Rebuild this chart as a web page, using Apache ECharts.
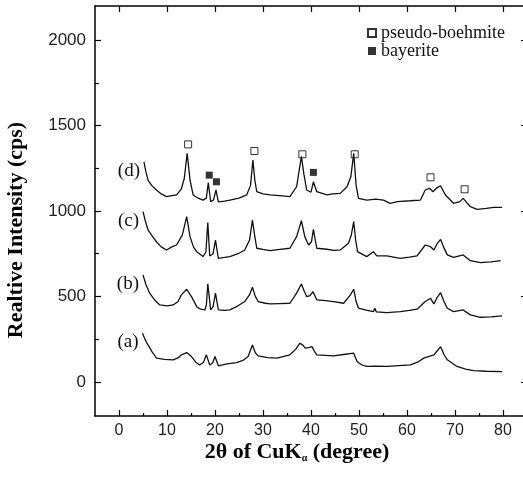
<!DOCTYPE html>
<html>
<head>
<meta charset="utf-8">
<script src="https://cdn.jsdelivr.net/npm/echarts@6/dist/echarts.min.js"></script>
<style>html,body{margin:0;padding:0;background:#fff;}#c{width:523px;height:478px;}</style>
</head>
<body>
<div id="c"></div>
<script>
// ---- data ----
const curveA = [[4.9,285],[5.4,250],[6.05,216],[6.9,175],[7.8,139],[9.5,132],[11.3,129],[12.3,140],[13.0,158],[14.1,171],[15.1,148],[16,115],[16.8,99],[17.6,115],[18.2,158],[18.9,99],[19.5,110],[20.0,148],[20.7,94],[22.5,105],[24.5,113],[25.8,125],[26.9,148],[27.8,216],[28.4,170],[29.0,152],[31,142],[32.9,139],[35.6,158],[36.8,190],[37.7,226],[38.3,215],[38.8,197],[39.5,200],[40.2,206],[40.7,180],[41.2,158],[43,155],[44.7,152],[46.8,160],[48.9,168],[49.6,119],[50.5,100],[51.6,90],[53.5,92],[55.8,90],[58.3,95],[60.7,99],[62.2,115],[63.5,139],[65.6,158],[66.4,185],[67.0,206],[67.7,160],[68.4,129],[70.4,90],[72.2,75],[73.9,66],[76.5,62],[79.8,60]];
const curveB = [[5.0,626],[5.6,570],[6.4,519],[7.4,480],[8.5,450],[10,445],[11.3,450],[12.3,470],[13.0,509],[14.1,542],[15.1,499],[16.2,440],[17.0,425],[17.9,421],[18.2,450],[18.5,573],[19.1,421],[19.6,440],[20.1,519],[20.7,421],[22,418],[23.1,421],[24.8,445],[26.2,470],[27.2,510],[27.8,554],[28.4,500],[29.0,470],[30.5,460],[31.5,456],[33.5,458],[35.6,460],[37.0,519],[38.0,573],[38.6,530],[39.1,499],[39.8,505],[40.4,528],[41.2,480],[43,475],[44.7,470],[46.8,460],[48.2,509],[48.9,542],[49.4,470],[49.9,431],[51.5,420],[53.0,411],[53.3,430],[53.6,410],[55.8,405],[58.6,411],[60.5,418],[62.1,425],[63.8,470],[64.9,489],[65.6,456],[66.3,495],[67.0,522],[67.7,470],[68.4,431],[69.7,411],[71.7,421],[73.2,392],[75.3,378],[77.5,380],[79.8,386]];
const curveC = [[5.0,996],[5.5,940],[6.05,889],[7,850],[7.8,820],[8.8,790],[9.9,772],[11,790],[12.0,801],[13.2,860],[14.1,967],[14.8,850],[15.5,790],[16.2,762],[17.5,733],[18.1,760],[18.5,932],[18.9,737],[19.6,750],[20.1,830],[20.7,723],[22,728],[23.1,733],[24.8,750],[26.2,772],[27.2,830],[27.8,947],[28.3,850],[28.7,782],[30,775],[31.5,768],[33.5,775],[35.6,782],[37.0,850],[38.0,943],[38.7,850],[39.5,801],[40.1,820],[40.5,893],[41.2,782],[43.3,776],[44.8,770],[46.1,772],[47.8,811],[48.4,860],[48.9,938],[49.3,830],[49.7,762],[51.6,733],[53.0,762],[53.7,737],[55.8,737],[58.6,723],[60.5,730],[62.1,737],[63.8,801],[64.9,791],[65.6,772],[66.3,810],[67.0,834],[67.6,790],[68.4,743],[69.7,729],[71.7,743],[73.2,709],[75.3,698],[77.5,702],[79.5,709]];
const curveD = [[5.2,1288],[5.6,1230],[6.05,1181],[6.8,1150],[7.8,1123],[8.8,1100],[9.9,1084],[11,1090],[12.0,1094],[13.0,1130],[13.6,1190],[14.2,1337],[14.8,1180],[15.45,1094],[16.5,1075],[17.5,1064],[18.2,1075],[18.6,1166],[19.1,1054],[19.7,1065],[20.2,1123],[20.7,1054],[22,1058],[23.1,1064],[25,1075],[26.6,1094],[27.4,1150],[27.9,1298],[28.3,1180],[28.7,1113],[30,1100],[31.5,1094],[33.5,1090],[35.6,1084],[37.0,1142],[38.0,1320],[38.5,1220],[39.1,1123],[40.0,1110],[40.5,1171],[41.2,1113],[43.3,1094],[44.5,1100],[46.1,1103],[47.5,1142],[48.3,1200],[48.9,1337],[49.4,1150],[49.9,1074],[51.6,1064],[53.5,1070],[55.1,1064],[56.5,1045],[58,1055],[60.7,1060],[62.8,1064],[63.8,1123],[64.7,1133],[65.4,1113],[66.2,1135],[67.0,1148],[68.0,1094],[69.7,1045],[71.0,1055],[71.7,1074],[73.2,1025],[74.6,1010],[76.5,1015],[78.1,1021],[79.8,1021]];
const curveNames = ['(a)','(b)','(c)','(d)'];
const pseudoBoehmite = [[14.4,1390],[28.2,1351],[38.2,1332],[49.1,1332],[64.9,1197],[72.0,1127]];
const bayerite = [[18.8,1210],[20.3,1171],[40.5,1226]];
const xMajor = [0,10,20,30,40,50,60,70,80];
const xMinor = [5,15,25,35,45,55,65,75];
const yMajor = [0,500,1000,1500,2000];
const yMinor = [250,750,1250,1750];
const xTitle = '2θ of CuK';
const xTitleSub = 'α';
const xTitleEnd = ' (degree)';
const yTitle = 'Realtive Intensity (cps)';

// ---- chart ----
const chart = echarts.init(document.getElementById('c'), null, {renderer:'canvas'});
const black = '#000';
const lineCol = '#111';
function curveSeries(data, name){
  return {
    type:'line', name:name, xAxisIndex:0, yAxisIndex:0,
    showSymbol:true, showAllSymbol:true, symbolSize:0, symbol:'circle',
    itemStyle:{color:lineCol},
    lineStyle:{color:lineCol, width:1.3},
    animation:false, silent:true,
    data: data.map((p,i)=> i===0 ? {value:p, label:{show:true, formatter:name, position:'left', distance:4, offset:[0,9],
      fontFamily:'Liberation Serif', fontSize:19, color:'#111'}} : p)
  };
}
const axisLineStyle = {color:black, width:1.5};
const tickStyle = {color:black, width:1.2};
const X_MIN = -5, X_MAX = 85, Y_MIN = -200, Y_MAX = 2200;
const option = {
  backgroundColor:'#fff',
  animation:false,
  grid:{left:95, top:6, right:-4, bottom:62, outerBoundsMode:'none', containLabel:false},
  legend:{
    data:['pseudo-boehmite','bayerite'], orient:'vertical', left:362, top:19,
    itemWidth:8, itemHeight:8, itemGap:0,
    textStyle:{fontFamily:'Liberation Serif', fontSize:18, color:'#111', lineHeight:17}
  },
  xAxis:[
    {type:'value', min:X_MIN, max:X_MAX, position:'bottom',
     axisLine:{show:true, onZero:false, lineStyle:axisLineStyle},
     axisTick:{show:true, inside:true, length:6, customValues:xMajor, lineStyle:tickStyle},
     axisLabel:{show:true, customValues:xMajor, margin:7, fontFamily:'Liberation Sans', fontSize:16, color:'#222'},
     splitLine:{show:false}},
    {type:'value', min:X_MIN, max:X_MAX, position:'bottom',
     axisLine:{show:false, onZero:false},
     axisTick:{show:true, inside:true, length:3, customValues:xMinor, lineStyle:tickStyle},
     axisLabel:{show:false}, splitLine:{show:false}},
    {type:'value', min:X_MIN, max:X_MAX, position:'top',
     axisLine:{show:true, onZero:false, lineStyle:axisLineStyle},
     axisTick:{show:true, inside:true, length:6, customValues:xMajor, lineStyle:tickStyle},
     axisLabel:{show:false}, splitLine:{show:false}}
  ],
  yAxis:[
    {type:'value', min:Y_MIN, max:Y_MAX, position:'left',
     axisLine:{show:true, onZero:false, lineStyle:axisLineStyle},
     axisTick:{show:true, inside:true, length:6, customValues:yMajor, lineStyle:tickStyle},
     axisLabel:{show:true, customValues:yMajor, margin:9, fontFamily:'Liberation Sans', fontSize:17, color:'#222',
       formatter:(v)=>String(v)},
     splitLine:{show:false}},
    {type:'value', min:Y_MIN, max:Y_MAX, position:'left',
     axisLine:{show:false, onZero:false},
     axisTick:{show:true, inside:true, length:4, customValues:yMinor, lineStyle:tickStyle},
     axisLabel:{show:false}, splitLine:{show:false}},
    {type:'value', min:Y_MIN, max:Y_MAX, position:'right',
     axisLine:{show:true, onZero:false, lineStyle:axisLineStyle},
     axisTick:{show:true, inside:true, length:6, customValues:yMajor, lineStyle:tickStyle},
     axisLabel:{show:false}, splitLine:{show:false}}
  ],
  series:[
    curveSeries(curveA, curveNames[0]),
    curveSeries(curveB, curveNames[1]),
    curveSeries(curveC, curveNames[2]),
    curveSeries(curveD, curveNames[3]),
    {type:'scatter', name:'pseudo-boehmite', xAxisIndex:0, yAxisIndex:0, symbol:'rect', symbolSize:7,
     itemStyle:{color:'#fff', borderColor:'#000', borderWidth:1}, data:pseudoBoehmite, silent:true},
    {type:'scatter', name:'bayerite', xAxisIndex:0, yAxisIndex:0, symbol:'rect', symbolSize:7,
     itemStyle:{color:'#000'}, data:bayerite, silent:true}
  ],
  graphic:[
    {type:'text', x:16, y:230, rotation:Math.PI/2,
     style:{text:yTitle, fontFamily:'Liberation Serif', fontWeight:'bold', fontSize:22, fill:'#000', align:'center', verticalAlign:'middle'}},
    {type:'text', x:297, y:452,
     style:{text:'{t|'+xTitle+'}{s|'+xTitleSub+'}{t|'+xTitleEnd+'}', align:'center', verticalAlign:'middle',
       rich:{t:{fontFamily:'Liberation Serif', fontWeight:'bold', fontSize:22, fill:'#000'},
             s:{fontFamily:'Liberation Serif', fontWeight:'bold', fontSize:10, fill:'#000', padding:[13,0,0,0]}}}}
  ]
};
chart.setOption(option);
</script>
</body>
</html>
